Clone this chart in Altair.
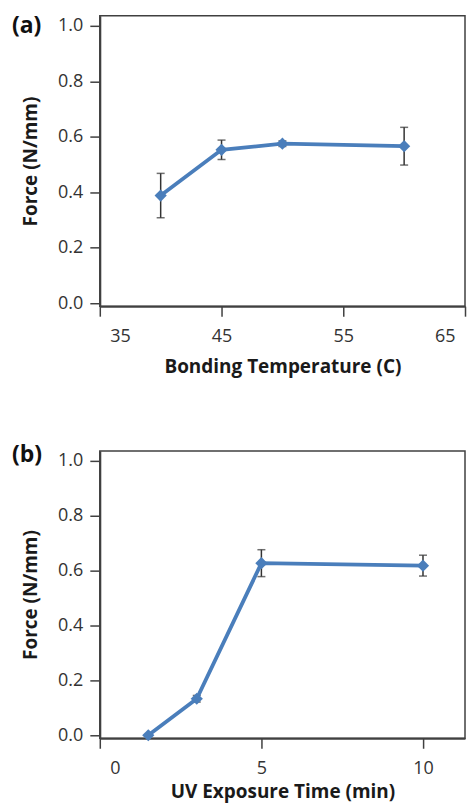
import altair as alt
import pandas as pd

# Panel (a)
a_temp = [40, 45, 50, 60]
a_force = [0.388, 0.553, 0.575, 0.566]
a_err = [0.08, 0.035, 0.01, 0.068]

# Panel (b)
b_time = [1.5, 3, 5, 10]
b_force = [0.0, 0.133, 0.627, 0.618]
b_err = [0.0, 0.012, 0.049, 0.038]

FONT = "Open Sans"
BLUE = "#4a7ebb"
AXC = "#404040"


def panel(xs, ys, errs, xtitle, xdomain, xticks, tag, tag_y, h, lpad, tpad):
    df = pd.DataFrame({"x": xs, "y": ys,
                       "lo": [v - e for v, e in zip(ys, errs)],
                       "hi": [v + e for v, e in zip(ys, errs)]})
    xenc = alt.X("x:Q", title=xtitle,
                 scale=alt.Scale(domain=xdomain, nice=False, zero=False),
                 axis=alt.Axis(values=xticks, grid=False, labelFlushOffset=-10,
                               tickSize=10, labelPadding=lpad, titlePadding=tpad))
    yscale = alt.Scale(domain=[-0.011, 1.036], nice=False, zero=False)
    yenc = alt.Y("y:Q", title="Force (N/mm)", scale=yscale,
                 axis=alt.Axis(values=[0, 0.2, 0.4, 0.6, 0.8, 1.0], format=".1f",
                               grid=False, tickSize=10, labelPadding=7,
                               titlePadding=17))
    base = alt.Chart(df)
    err = base.mark_errorbar(ticks=True, color="#333333", thickness=1.5, size=8).encode(
        x=xenc, y=alt.Y("lo:Q", scale=yscale, title="Force (N/mm)"), y2="hi:Q")
    line = base.mark_line(color=BLUE, strokeWidth=3.8).encode(x=xenc, y=yenc)
    pts = base.mark_point(shape="diamond", filled=True, opacity=1, color=BLUE,
                          size=150).encode(x=xenc, y=yenc)
    lab = alt.Chart(pd.DataFrame({"t": [tag]})).mark_text(
        align="left", baseline="middle", fontSize=23, fontWeight="bold",
        font=FONT, color="#111111").encode(
        text="t:N", x=alt.value(-88), y=alt.value(tag_y))
    return alt.layer(err, line, pts, lab).properties(width=366, height=h)


pa = panel(a_temp, a_force, a_err, "Bonding Temperature (C)", [35, 65],
           [35, 45, 55, 65], "(a)", 10, 291, 11, 12)
pb = panel(b_time, b_force, b_err, "UV Exposure Time (min)", [0, 11.3],
           [0, 5, 10], "(b)", 4, 288, 11, 5)

chart = alt.vconcat(pa, pb, spacing=66).properties(
    padding={"left": 3, "top": 5, "right": 0, "bottom": 0}
).configure_view(stroke=AXC, strokeWidth=1.5).configure_axis(
    domainColor=AXC, domainWidth=2, tickColor=AXC, tickWidth=1.5,
    labelFont=FONT, labelFontSize=18, labelColor="#333333",
    titleFont=FONT, titleFontSize=19, titleFontWeight="bold", titleColor="#1a1a1a"
)

chart.save("out.html", embed_options={"renderer": "svg", "actions": False})
